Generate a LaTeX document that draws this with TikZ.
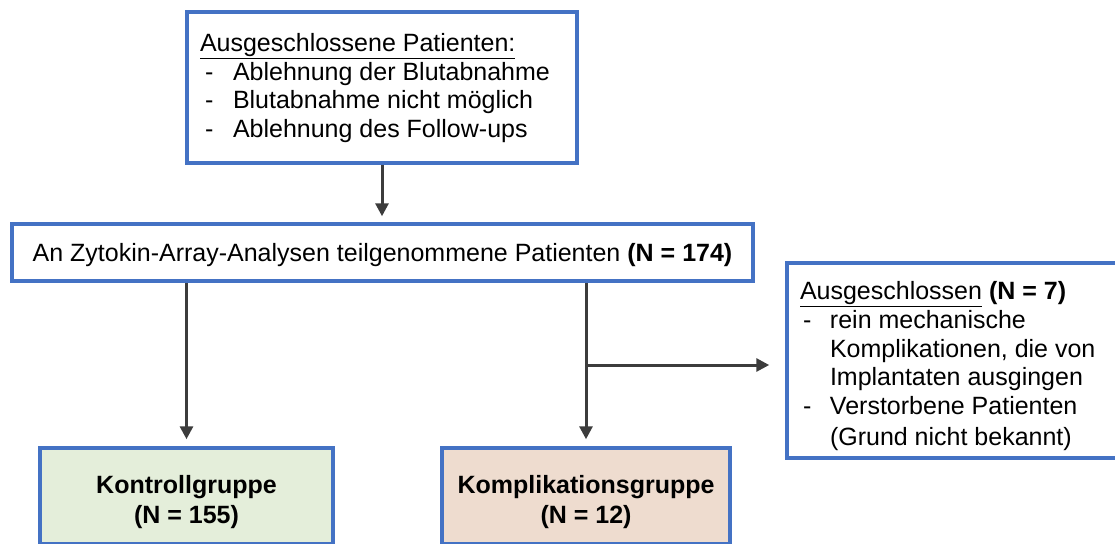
\documentclass[tikz,border=0pt]{standalone}
\usepackage{fontspec}
\setmainfont{Liberation Sans}
\usetikzlibrary{arrows.meta,calc}
\definecolor{bblue}{RGB}{68,114,196}
\definecolor{arrgray}{RGB}{60,60,60}
\definecolor{gfill}{RGB}{228,238,218}
\definecolor{pfill}{RGB}{238,220,207}
\newcommand\dashitem[1]{\hspace*{5pt}\makebox[28pt][l]{-}#1}
\newcommand\rdash[1]{\hspace*{3pt}\makebox[27pt][l]{-}#1}
\begin{document}
\begin{tikzpicture}[x=1pt,y=-1pt,
  box/.style={draw=bblue,line width=3.5pt,rectangle,inner sep=0pt},
  txt/.style={font=\fontsize{25}{28.6}\selectfont,inner sep=0pt,outer sep=0pt,align=left},
  arr/.style={draw=arrgray,line width=3pt,-{Triangle[length=13pt,width=13pt]}}]
\useasboundingbox (0,0) rectangle (1115,543);
% boxes
\node[box,minimum width=390pt,minimum height=151pt] (top) at (382,87.5) {};
\node[box,minimum width=741pt,minimum height=57pt] (mid) at (382.5,252.5) {};
\node[box,fill=gfill,minimum width=293pt,minimum height=96pt] (ctrl) at (186.5,496) {};
\node[box,fill=pfill,minimum width=288pt,minimum height=96pt] (comp) at (586,496) {};
\node[box,minimum width=343pt,minimum height=195pt] (excl) at (958.5,360.5) {};
% texts
\node[txt,anchor=north west] (toptxt) at (200,33.5) {\underline{Ausgeschlossene Patienten:}\\
\dashitem{Ablehnung der Blutabnahme}\\
\dashitem{Blutabnahme nicht möglich}\\
\dashitem{Ablehnung des Follow-ups}};
\node[txt,anchor=base] (midtxt) at (382.5,261) {An Zytokin-Array-Analysen teilgenommene Patienten \textbf{(N = 174)}};
\node[txt,anchor=north,align=center,font=\fontsize{25}{30}\selectfont\bfseries] (ctrltxt) at (186.5,475.5) {Kontrollgruppe\\(N = 155)};
\node[txt,anchor=north,align=center,font=\fontsize{25}{30}\selectfont\bfseries] (comptxt) at (586,475.5) {Komplikationsgruppe\\(N = 12)};
\node[txt,anchor=north west] (excltxt) at (800,281.8) {\underline{Ausgeschlossen} \textbf{(N = 7)}\\
\rdash{rein mechanische}\\
\hspace*{30pt}Komplikationen, die von\\
\hspace*{30pt}Implantaten ausgingen\\
\rdash{Verstorbene Patienten}\\[3pt]
\hspace*{30pt}(Grund nicht bekannt)};
% connectors
\coordinate (br) at ($(comp.north |- 0,365)$);
\draw[arr,shorten >=6pt] (top.south) -- (top.south |- mid.north);
\draw[arr,shorten >=7pt] (mid.south -| ctrl.north) -- (ctrl.north);
\draw[arr,shorten >=7pt] (mid.south -| comp.north) -- (comp.north);
\draw[arr,shorten >=16pt] (br) -- (br -| excl.west);
\end{tikzpicture}
\end{document}
